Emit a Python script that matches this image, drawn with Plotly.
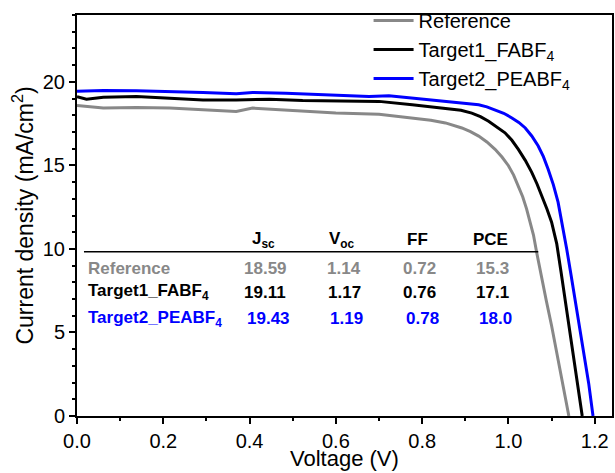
import plotly.graph_objects as go

# J-V curves (voltage in V, current density in mA/cm^2)
ref_v = [0.0, 0.030, 0.061, 0.138, 0.215, 0.292, 0.369, 0.407, 0.446, 0.523, 0.600, 0.700,
         0.777, 0.820, 0.854, 0.892, 0.912, 0.931, 0.950, 0.969, 0.985, 1.000, 1.012, 1.023,
         1.033, 1.042, 1.050, 1.058, 1.065, 1.077, 1.088, 1.100, 1.111, 1.125, 1.140]
ref_j = [18.59, 18.50, 18.43, 18.47, 18.43, 18.33, 18.23, 18.43, 18.37, 18.23, 18.13, 18.06,
         17.84, 17.70, 17.54, 17.24, 17.02, 16.75, 16.40, 15.96, 15.50, 14.98, 14.42, 13.79,
         13.12, 12.40, 11.62, 10.83, 9.84, 8.40, 6.87, 5.40, 3.90, 1.95, 0.0]

t1_v = [0.0, 0.022, 0.061, 0.138, 0.215, 0.292, 0.369, 0.446, 0.523, 0.600, 0.700, 0.777,
        0.854, 0.890, 0.915, 0.935, 0.954, 0.973, 0.992, 1.008, 1.023, 1.039, 1.054, 1.066,
        1.077, 1.089, 1.100, 1.112, 1.122, 1.132, 1.141, 1.150, 1.161, 1.171]
t1_j = [19.11, 18.96, 19.08, 19.12, 19.02, 18.92, 18.92, 18.96, 18.88, 18.86, 18.83, 18.63,
        18.43, 18.30, 18.13, 17.92, 17.64, 17.32, 16.95, 16.50, 15.96, 15.30, 14.58, 13.90,
        13.20, 12.40, 11.60, 10.30, 8.60, 6.87, 5.40, 3.90, 1.95, 0.0]

t2_v = [0.0, 0.061, 0.138, 0.215, 0.292, 0.369, 0.407, 0.484, 0.600, 0.677, 0.723, 0.777,
        0.854, 0.900, 0.931, 0.950, 0.969, 0.989, 1.008, 1.024, 1.039, 1.054, 1.069, 1.081,
        1.092, 1.104, 1.115, 1.125, 1.135, 1.145, 1.155, 1.165, 1.175, 1.186, 1.196]
t2_j = [19.43, 19.48, 19.46, 19.42, 19.36, 19.28, 19.36, 19.32, 19.22, 19.12, 19.16, 19.02,
        18.83, 18.72, 18.63, 18.50, 18.33, 18.12, 17.84, 17.57, 17.24, 16.76, 16.16, 15.52,
        14.77, 13.85, 12.80, 11.50, 10.00, 8.45, 6.87, 5.40, 3.90, 1.95, 0.0]

series_names = ["Reference", "Target1_FABF<sub>4</sub>", "Target2_PEABF<sub>4</sub>"]
series_colors = ["#888888", "#000000", "#0000ff"]

# Photovoltaic parameters table
table_headers = ["J<sub>sc</sub>", "V<sub>oc</sub>", "FF", "PCE"]
jsc_vals = ["18.59", "19.11", "19.43"]
voc_vals = ["1.14", "1.17", "1.19"]
ff_vals = ["0.72", "0.76", "0.78"]
pce_vals = ["15.3", "17.1", "18.0"]

FONT = "Liberation Sans, Arial, sans-serif"

fig = go.Figure()
for v, j, name, color in zip([ref_v, t1_v, t2_v], [ref_j, t1_j, t2_j], series_names, series_colors):
    fig.add_trace(go.Scatter(x=v, y=j, mode="lines", name=name,
                             line=dict(color=color, width=3)))

# table layout (pixel positions converted to data units)
W, H = 615, 473
L, R, T, B = 77, 1, 11, 57
XMAX, YMAX = 1.24, 24.0


def px_to_x(px):
    return (px - L) / (W - L - R) * XMAX


def py_to_y(py):
    return (H - B - py) / (H - B - T) * YMAX


def py_to_paper(py):
    return (H - B - py) / (H - B - T)


col_px = [264, 343, 419, 492]
row_py = [267, 291, 318]
row_offsets = [0, 0, 3]

for cx, text in zip(col_px, table_headers):
    fig.add_annotation(x=px_to_x(cx), y=py_to_y(238), text="<b>" + text + "</b>",
                       showarrow=False, xanchor="center", yanchor="middle",
                       font=dict(family=FONT, size=17, color="black"))

fig.add_shape(type="line", x0=px_to_x(84), x1=px_to_x(540), y0=py_to_y(250), y1=py_to_y(250),
              line=dict(color="black", width=1.5))

for i in range(3):
    color = series_colors[i]
    fig.add_annotation(x=px_to_x(86), y=py_to_y(row_py[i]), text="<b>" + series_names[i] + "</b>",
                       showarrow=False, xanchor="left", yanchor="middle",
                       font=dict(family=FONT, size=17, color=color))
    for cx, vals in zip(col_px, [jsc_vals, voc_vals, ff_vals, pce_vals]):
        fig.add_annotation(x=px_to_x(cx + row_offsets[i] + 2), y=py_to_y(row_py[i]),
                           text="<b>" + vals[i] + "</b>",
                           showarrow=False, xanchor="center", yanchor="middle",
                           font=dict(family=FONT, size=17, color=color))

# x-axis title placed just under the tick labels
fig.add_annotation(xref="paper", yref="paper", x=0.5, y=py_to_paper(459),
                   text="Voltage (V)", showarrow=False, xanchor="center", yanchor="middle",
                   font=dict(family=FONT, size=22, color="black"))

axis_common = dict(showline=True, linecolor="black", linewidth=2, mirror=True,
                   ticks="outside", ticklen=6, tickwidth=1.5, tickcolor="black",
                   showgrid=False, zeroline=False,
                   tickfont=dict(family=FONT, size=20, color="black"))

fig.update_xaxes(range=[0, XMAX], tickmode="linear", tick0=0, dtick=0.2, tickformat=".1f",
                 minor=dict(dtick=0.1, ticks="outside", ticklen=3, tickwidth=1.5, tickcolor="black"),
                 **axis_common)
fig.update_yaxes(range=[0, YMAX], tickmode="linear", tick0=0, dtick=5,
                 minor=dict(dtick=1, ticks="outside", ticklen=3, tickwidth=1.5, tickcolor="black"),
                 title=dict(text="Current density (mA/cm<sup>2</sup>)",
                            font=dict(family=FONT, size=23, color="black"), standoff=3),
                 **axis_common)

fig.update_layout(
    width=W, height=H,
    margin=dict(l=L, r=R, t=T, b=B),
    paper_bgcolor="white", plot_bgcolor="white",
    font=dict(family=FONT, color="black"),
    legend=dict(x=0.545, y=1.035, xanchor="left", yanchor="top",
                bgcolor="rgba(0,0,0,0)", font=dict(family=FONT, size=20, color="black"),
                itemwidth=40, tracegroupgap=0),
)

fig.write_html("out.html")
